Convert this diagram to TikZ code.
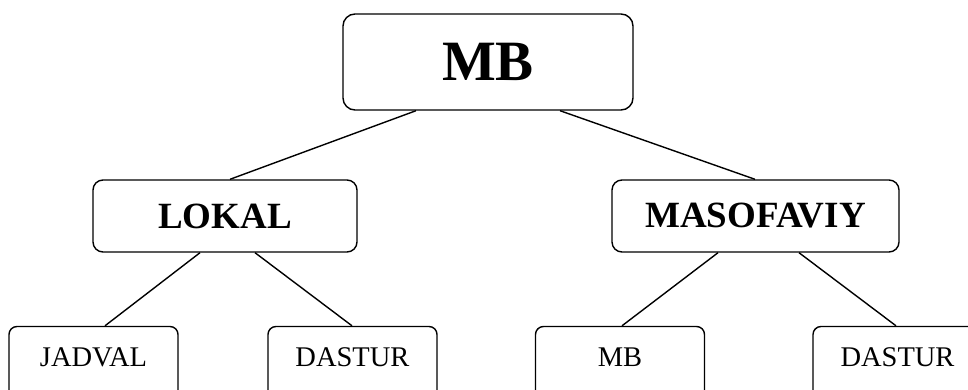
\documentclass[tikz,border=0pt]{standalone}
\usepackage{fontspec}
\setmainfont{Liberation Serif}
\begin{document}
\begin{tikzpicture}[x=1pt,y=-1pt,
  box/.style={draw, line width=1.4pt, inner sep=0pt},
  rootbox/.style={box, rounded corners=12pt, minimum width=290pt, minimum height=96pt,
    font=\fontsize{57}{60}\selectfont\bfseries},
  midbox/.style={box, rounded corners=10pt, minimum height=72pt,
    font=\fontsize{37}{40}\selectfont\bfseries},
  leafbox/.style={box, rounded corners=8pt, minimum width=169pt, anchor=base,
    text height=40pt, text depth=60pt, font=\fontsize{28.5}{30}\selectfont},
  link/.style={line width=1.4pt}]
\useasboundingbox (0,0) rectangle (968,390);
\clip (0,0) rectangle (968,390);

% root
\node[rootbox] (root) at (488,62) {MB};

% second level
\node[midbox, minimum width=264pt] (lokal) at (225,216) {LOKAL};
\node[midbox, minimum width=287pt] (masof) at (755.5,216) {MASOFAVIY};

% leaves (boxes run past the lower edge)
\node[leafbox] (jadval) at (93.5,366.5) {JADVAL};
\node[leafbox] (dastA) at (352.5,366.5) {DASTUR};
\node[leafbox] (mbleaf) at (620,366.5) {MB};
\node[leafbox] (dastB) at (897.5,366.5) {DASTUR};

% connectors
\draw[link] (416,0 |- root.south) -- (230,0 |- lokal.north);
\draw[link] (560,0 |- root.south) -- (755,0 |- masof.north);
\draw[link] (200,0 |- lokal.south) -- (105,0 |- jadval.north);
\draw[link] (255,0 |- lokal.south) -- (352,0 |- dastA.north);
\draw[link] (718,0 |- masof.south) -- (622,0 |- mbleaf.north);
\draw[link] (799,0 |- masof.south) -- (896,0 |- dastB.north);
\end{tikzpicture}
\end{document}
